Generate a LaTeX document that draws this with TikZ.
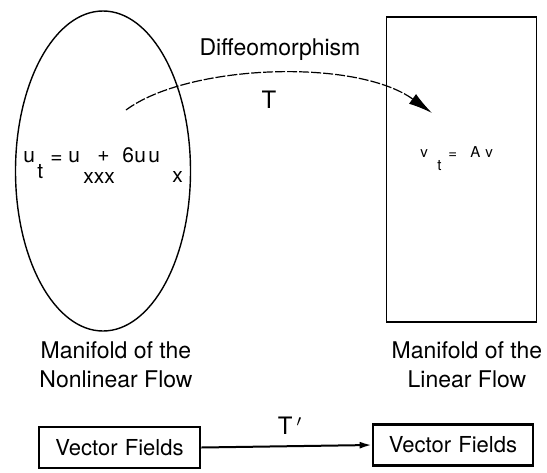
\documentclass[tikz,border=0pt]{standalone}
\usepackage{fontspec}
\setmainfont{TeX Gyre Heros}
\usetikzlibrary{arrows.meta,shapes.geometric}

% piece of a hand-set formula: horizontal offset, vertical shift, text
\newcommand{\eqpart}[3]{\makebox[0pt][l]{\hspace*{#1}\raisebox{#2}{#3}}}

\begin{document}
\begin{tikzpicture}[x=0.5pt,y=-0.5pt,
    manifold/.style={draw,line width=0.7pt,inner sep=0pt},
    fieldbox/.style={draw,line width=1.3pt,align=left,inner xsep=3pt,inner ysep=0pt},
    lbl/.style={font=\fontsize{11.5}{14.5}\selectfont,align=center}]

\useasboundingbox (0,0) rectangle (547,472);

\node[manifold,ellipse,minimum width=87.5pt,minimum height=160pt] (nonlin) at (103,171) {};
\node[manifold,rectangle,minimum width=75pt,minimum height=152.5pt] (lin) at (461.5,169.5) {};

\node[font=\fontsize{10.5}{13}\selectfont,anchor=base west,inner sep=0pt] (kdv) at (23,162)
  {\eqpart{0pt}{0pt}{u}\eqpart{7pt}{-8pt}{t}\eqpart{13.5pt}{-0.5pt}{=}%
   \eqpart{22.5pt}{0pt}{u}\eqpart{30pt}{-10.5pt}{xxx}\eqpart{37pt}{0.5pt}{+}%
   \eqpart{49.5pt}{0pt}{6}\eqpart{55.5pt}{0pt}{u}\eqpart{62.5pt}{0pt}{u}%
   \eqpart{74.5pt}{-10pt}{x}\hspace*{77pt}};
\node[font=\fontsize{7.5}{9}\selectfont,anchor=base west,inner sep=0pt] (lineq) at (420,157)
  {\eqpart{0pt}{0pt}{v}\eqpart{8.5pt}{-6.5pt}{t}\eqpart{14pt}{-0.5pt}{=}%
   \eqpart{25pt}{0pt}{A}\eqpart{32.5pt}{0pt}{v}\hspace*{36.5pt}};

\node[lbl] (diffeo) at (280,50) {Diffeomorphism};
\node[lbl,font=\fontsize{12}{14}\selectfont] (tmap) at (269,100) {T};

\coordinate (src) at (126,110);
\coordinate (dst) at (432,113);
\draw[line width=0.6pt,dash pattern=on 5pt off 1pt,-{Latex[length=12pt,width=6pt]}]
  (src) .. controls (188,64) and (356,58) .. (dst);

\node[lbl] (nonlinlbl) at (116,365) {Manifold of the\\Nonlinear Flow};
\node[lbl] (linlbl) at (467,365) {Manifold of the\\Linear Flow};

\node[lbl,font=\fontsize{12}{14}\selectfont] (tprime) at (290,426) {T\,$'$};

\node[fieldbox,lbl,font=\fontsize{11}{13}\selectfont,text width=74.5pt,minimum height=20.5pt] (lfield) at (119.5,447.5) {Vector Fields};
\node[fieldbox,lbl,font=\fontsize{11}{13}\selectfont,text width=74pt,minimum height=20.5pt] (rfield) at (453,445) {Vector Fields};

\draw[line width=1pt,-{Latex[length=6pt,width=3.5pt]}] (lfield.east) -- (rfield.west);
\end{tikzpicture}
\end{document}
